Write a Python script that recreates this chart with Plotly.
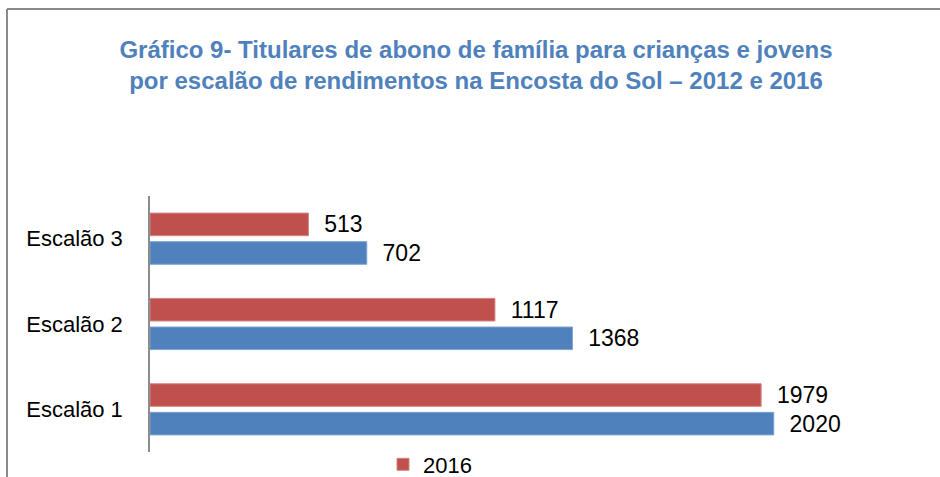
import plotly.graph_objects as go

categories = ["Escalão 1", "Escalão 2", "Escalão 3"]
values_2012 = [2020, 1368, 702]
values_2016 = [1979, 1117, 513]
series_names = ["2012", "2016"]

RED = "#C0504D"
BLUE = "#4F81BD"
FONT = "Liberation Sans, Arial, sans-serif"

W, H = 940, 477
L, R, T, B = 150, 18, 196, 25
pw = W - L - R
ph = H - T - B

def px_x(x):
    return (x - L) / pw

def px_y(y):
    return 1 + (T - y) / ph

fig = go.Figure()
fig.add_trace(go.Bar(
    y=categories, x=values_2012, orientation="h", name=series_names[0],
    marker=dict(color=BLUE, line=dict(color="#7fa3d0", width=1)),
    text=values_2012, texttemplate="\u00a0\u00a0%{x}", textposition="outside",
    textfont=dict(family=FONT, size=23, color="black"),
    constraintext="none", cliponaxis=False, showlegend=False, hoverinfo="skip",
))
fig.add_trace(go.Bar(
    y=categories, x=values_2016, orientation="h", name=series_names[1],
    marker=dict(color=RED, line=dict(color="#d48583", width=1)),
    text=values_2016, texttemplate="\u00a0\u00a0%{x}", textposition="outside",
    textfont=dict(family=FONT, size=23, color="black"),
    constraintext="none", cliponaxis=False, showlegend=True, hoverinfo="skip",
))

fig.update_layout(
    width=W, height=H,
    margin=dict(l=L, r=R, t=T, b=B, autoexpand=False),
    paper_bgcolor="white", plot_bgcolor="white",
    barmode="group", bargap=0.33, bargroupgap=0.21,
    font=dict(family=FONT, size=22, color="black"),
    title=dict(
        text="Gráfico 9- Titulares de abono de família para crianças e jovens<br>"
             "por escalão de rendimentos na Encosta do Sol – 2012 e 2016",
        font=dict(family=FONT, size=24, color=BLUE, weight="bold"),
        x=476 / W, xanchor="center", xref="container",
        y=1 - 34 / H, yanchor="top", yref="container",
        pad=dict(t=24),
    ),
    xaxis=dict(range=[0, 2500], visible=False, fixedrange=True),
    yaxis=dict(
        showline=True, linecolor="#8c8c8c", linewidth=1.5,
        ticks="outside", ticklen=21, tickcolor="rgba(0,0,0,0)",
        tickfont=dict(family=FONT, size=22, color="black"),
        showgrid=False, zeroline=False, fixedrange=True,
    ),
    legend=dict(
        orientation="h", x=px_x(383), xanchor="left",
        y=-(464.5 - (H - B)) / ph, yanchor="middle",
        font=dict(family=FONT, size=22, color="black"),
        bgcolor="rgba(0,0,0,0)",
    ),
    showlegend=True,
)

# outer chart-area border (top and left edges visible in the crop)
fig.add_shape(type="line", xref="paper", yref="paper",
              x0=px_x(7), x1=px_x(7), y0=px_y(H + 5), y1=px_y(9),
              line=dict(color="#8a8a8a", width=2))
fig.add_shape(type="line", xref="paper", yref="paper",
              x0=px_x(7), x1=px_x(W + 5), y0=px_y(9), y1=px_y(9),
              line=dict(color="#8a8a8a", width=2))

fig.write_html("out.html", config={"displayModeBar": False},
               post_script="document.body.style.margin='0px';document.body.style.overflow='hidden';")
